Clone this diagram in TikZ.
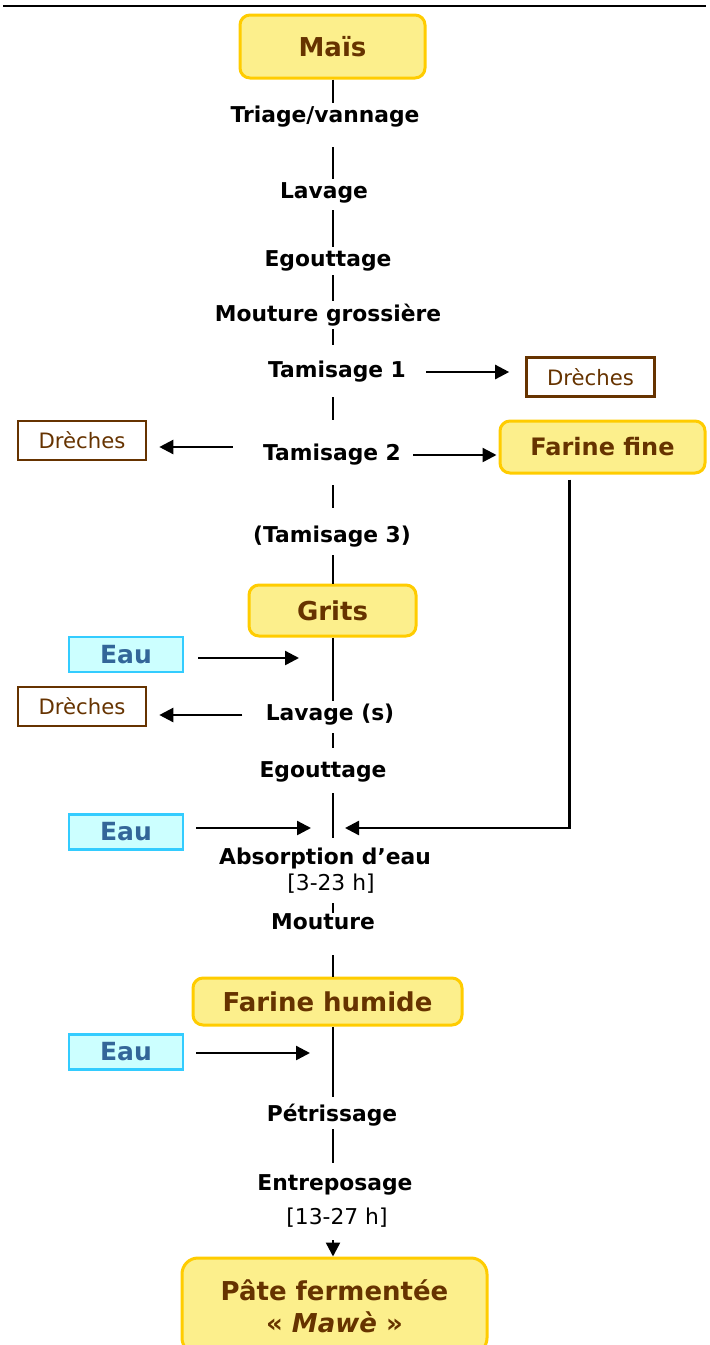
\documentclass[tikz,border=0pt]{standalone}
\usepackage{fontspec}
\setmainfont{DejaVu Sans}
\usetikzlibrary{arrows.meta}

\definecolor{boxfill}{HTML}{FCEF8C}
\definecolor{boxline}{HTML}{FFCC00}
\definecolor{brun}{HTML}{663300}
\definecolor{eaufill}{HTML}{CCFFFF}
\definecolor{eauline}{HTML}{33CCFF}
\definecolor{eautext}{HTML}{336699}

\begin{document}
\begin{tikzpicture}[x=0.5pt, y=-0.5pt]
\tikzstyle{productStyle}=[draw=boxline, fill=boxfill, line width=1.5pt, rounded corners=5pt, inner sep=0pt, text=brun, align=center, font=\fontsize{13}{16}\selectfont\bfseries]
\tikzstyle{stepStyle}=[inner sep=0pt, minimum height=14pt, font=\fontsize{10.9}{12}\selectfont\bfseries]
\tikzstyle{timeStyle}=[inner sep=0pt, minimum height=14pt, font=\fontsize{10.9}{12}\selectfont]
\tikzstyle{wasteStyle}=[draw=brun, line width=1.3pt, inner sep=0pt, text=brun, minimum width=64pt, minimum height=19.5pt, font=\fontsize{10.6}{12}\selectfont]
\tikzstyle{waterStyle}=[draw=eauline, fill=eaufill, line width=1.1pt, inner sep=0pt, text=eautext, minimum width=57pt, minimum height=17.5pt, font=\fontsize{12.5}{14}\selectfont\bfseries]
\tikzstyle{lineStyle}=[line width=1.2pt]
\tikzstyle{arrowStyle}=[line width=1.2pt, -{Triangle[length=7pt, width=7pt]}]

\clip (0,0) rectangle (709,1345);
\draw[line width=0.8pt] (3,6) -- (706,6);

% main axis and joins
\coordinate (axis) at (333,0);
\coordinate (join1) at (333,658);
\coordinate (join2) at (333,828);
\coordinate (join3) at (333,1053);

% products
\node[productStyle, minimum width=92.5pt, minimum height=31.5pt] (mais) at (332.5,46.5) {Maïs};
\node[productStyle, minimum width=102.5pt, minimum height=26pt, font=\fontsize{12}{14}\selectfont\bfseries] (fine) at (602.5,447) {Farine fine};
\node[productStyle, minimum width=83.5pt, minimum height=25.5pt] (grits) at (332.5,610.5) {Grits};
\node[productStyle, minimum width=134.5pt, minimum height=23.5pt] (humide) at (327.5,1001.5) {Farine humide};
\node[productStyle, minimum width=152.5pt, minimum height=48pt, rounded corners=8pt] (pate) at (334.5,1306) {Pâte fermentée\\« \textit{Mawè} »};

% steps
\node[stepStyle] (triage) at (325,117) {Triage/vannage};
\node[stepStyle] (lavage) at (324,193) {Lavage};
\node[stepStyle] (egout) at (328,261) {Egouttage};
\node[stepStyle] (moutgros) at (328,315) {Mouture grossière};
\node[stepStyle] (tam1) at (337,372) {Tamisage 1};
\node[stepStyle] (tam2) at (332,455) {Tamisage 2};
\node[stepStyle] (tam3) at (332,537) {(Tamisage 3)};
\node[stepStyle] (lavs) at (330,715) {Lavage (s)};
\node[stepStyle] (egout2) at (323,772) {Egouttage};
\node[stepStyle] (absorp) at (325,858) {Absorption d’eau};
\node[timeStyle] (hours1) at (331,884) {[3-23 h]};
\node[stepStyle] (mouture) at (323,922) {Mouture};
\node[stepStyle] (petri) at (332,1115) {Pétrissage};
\node[stepStyle] (entrepo) at (335,1185) {Entreposage};
\node[timeStyle] (hours2) at (337,1218) {[13-27 h]};

% by-products and water
\node[wasteStyle] (drech1) at (590.5,377) {Drèches};
\node[wasteStyle] (drech2) at (82,440.5) {Drèches};
\node[wasteStyle] (drech3) at (82,706.5) {Drèches};
\node[waterStyle] (eau1) at (126,654.5) {Eau};
\node[waterStyle] (eau2) at (126,832) {Eau};
\node[waterStyle] (eau3) at (126,1052) {Eau};

% main line
\draw[lineStyle] (mais.south -| axis) -- (triage.north -| axis);
\draw[lineStyle, shorten <=8pt] (triage.south -| axis) -- (lavage.north -| axis);
\draw[lineStyle, shorten <=1.5pt] (lavage.south -| axis) -- (egout.north -| axis);
\draw[lineStyle] (egout.south -| axis) -- (moutgros.north -| axis);
\draw[lineStyle, shorten >=6.5pt] (moutgros.south -| axis) -- (tam1.north -| axis);
\draw[lineStyle, shorten <=5.5pt, shorten >=10.5pt] (tam1.south -| axis) -- (tam2.north -| axis);
\draw[lineStyle, shorten <=8pt, shorten >=7.5pt] (tam2.south -| axis) -- (tam3.north -| axis);
\draw[lineStyle, shorten <=2pt] (tam3.south -| axis) -- (grits.north -| axis);
\draw[lineStyle] (grits.south -| axis) -- (lavs.north -| axis);
\draw[lineStyle, shorten <=2pt, shorten >=5pt] (lavs.south -| axis) -- (egout2.north -| axis);
\draw[lineStyle, shorten <=3.5pt, shorten >=3pt] (egout2.south -| axis) -- (absorp.north -| axis);
\draw[lineStyle, shorten <=2.5pt, shorten >=-2.5pt] (hours1.south -| axis) -- (mouture.north -| axis);
\draw[lineStyle, shorten <=9.5pt] (mouture.south -| axis) -- (humide.north -| axis);
\draw[lineStyle, shorten >=2pt] (humide.south -| axis) -- (petri.north -| axis);
\draw[lineStyle, shorten >=4pt] (petri.south -| axis) -- (entrepo.north -| axis);
\draw[arrowStyle, shorten <=4pt] (hours2.south -| axis) -- (pate.north -| axis);

% side streams
\draw[arrowStyle, shorten <=10pt, shorten >=8pt] (tam1.east) -- (tam1.east -| drech1.west);
\draw[arrowStyle, shorten <=15pt, shorten >=6pt] ([yshift=4pt]tam2.west) -- ([yshift=4pt]tam2.west -| drech2.east);
\draw[arrowStyle, shorten <=6pt, shorten >=1pt] (tam2.east) -- (tam2.east -| fine.west);
\draw[arrowStyle, shorten <=2.5pt, shorten >=6pt] ([xshift=-16.5pt]fine.south) |- (join2);
\draw[arrowStyle, shorten <=7pt, shorten >=17pt] (eau1.east |- join1) -- (join1);
\draw[arrowStyle, shorten <=11.5pt, shorten >=6pt] (lavs.west) -- (lavs.west -| drech3.east);
\draw[arrowStyle, shorten <=6pt, shorten >=11pt] (eau2.east |- join2) -- (join2);
\draw[arrowStyle, shorten <=6pt, shorten >=11.5pt] (eau3.east |- join3) -- (join3);
\end{tikzpicture}
\end{document}
